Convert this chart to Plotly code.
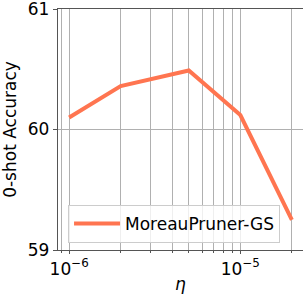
import math
import plotly.graph_objects as go

eta = [1e-6, 2e-6, 5e-6, 1e-5, 2e-5]
acc = [60.10, 60.36, 60.49, 60.12, 59.25]
series_name = "MoreauPruner-GS"

major_vals = [1e-6, 1e-5]
major_text = ["10<sup>−6</sup>", "10<sup>−5</sup>"]
minor_vals = [m * 10 ** e for e in (-7, -6, -5) for m in range(2, 10)]
y_ticks = [59, 60, 61]

lo = math.log10(min(eta))
hi = math.log10(max(eta))
pad = 0.05 * (hi - lo)

FONT = "DejaVu Sans"
fig = go.Figure()
fig.add_trace(go.Scatter(x=eta, y=acc, mode="lines", name=series_name,
                         line=dict(color="#FF7550", width=4), showlegend=True))

fig.update_layout(
    width=303, height=297,
    margin=dict(l=58, r=0, t=9, b=47, autoexpand=False),
    plot_bgcolor="white", paper_bgcolor="white",
    font=dict(family=FONT, size=17, color="black"),
    showlegend=True,
    legend=dict(x=0.041, y=0.029, xanchor="left", yanchor="bottom",
                bgcolor="rgba(255,255,255,0.8)", bordercolor="#cccccc", borderwidth=1,
                itemwidth=46,
                font=dict(size=17, family=FONT)),
    xaxis=dict(type="log", range=[lo - pad, hi + pad], automargin=False,
               tickvals=major_vals, ticktext=major_text, ticklabeloverflow="allow",
               showgrid=True, gridcolor="#b0b0b0", gridwidth=1,
               minor=dict(tickvals=minor_vals, showgrid=True, gridcolor="#b0b0b0",
                          gridwidth=1, ticks="outside", ticklen=2, tickcolor="#555555"),
               showline=True, linecolor="#555555", linewidth=1.3, mirror=True,
               ticks="outside", ticklen=3, tickcolor="#555555",
               title=dict(text="<i>η</i>", standoff=0, font=dict(size=17)),
               zeroline=False),
    yaxis=dict(range=[59, 61], tickvals=y_ticks, ticktext=[str(v) for v in y_ticks],
               automargin=False, ticklabeloverflow="allow",
               showgrid=True, gridcolor="#b0b0b0", gridwidth=1,
               showline=True, linecolor="#555555", linewidth=1.3, mirror=True,
               ticks="outside", ticklen=4, tickcolor="#555555",
               title=dict(text="0-shot Accuracy", standoff=6, font=dict(size=17)),
               zeroline=False),
)
fig.write_html("out.html", config={"displayModeBar": False},
               post_script="document.body.style.margin='0px';")
